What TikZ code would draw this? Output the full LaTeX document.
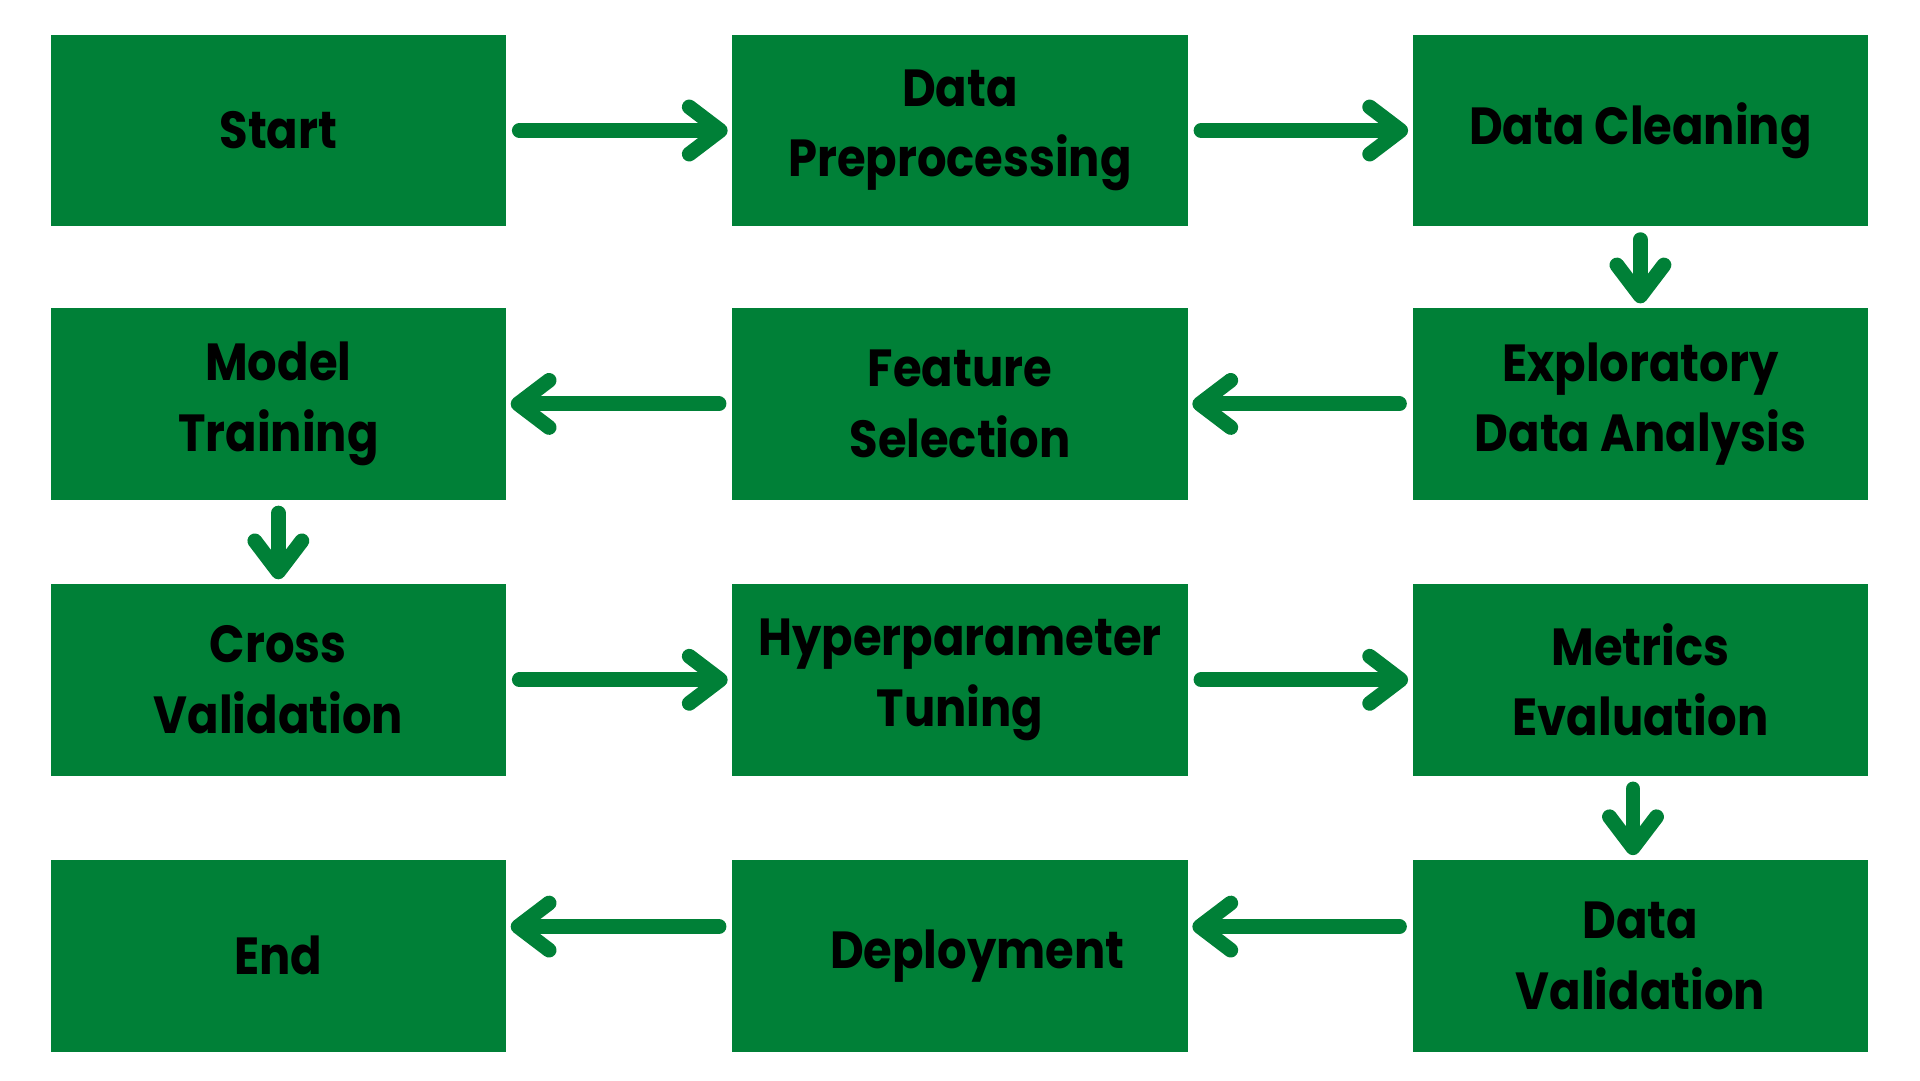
\documentclass[tikz,border=0pt]{standalone}
\usepackage{fontspec}
\setmainfont{Poppins}[FakeStretch=0.89]
\usetikzlibrary{arrows.meta}
\definecolor{boxgreen}{HTML}{008037}
\begin{document}
\begin{tikzpicture}[x=0.01cm,y=-0.01cm,
  stepbox/.style={fill=boxgreen, draw=none, minimum width=3.68cm, minimum height=1.55cm,
    inner sep=0pt, align=center, text=black, font=\bfseries\fontsize{12}{16.2}\selectfont},
  flow/.style={draw=boxgreen, line width=0.12cm, line cap=round,
    shorten <=0.1cm, shorten >=0.03cm,
    -{Straight Barb[round, length=0.25cm, width=0.38cm]}}]
\useasboundingbox (0,0) rectangle (1552,873);
\node[stepbox] (start) at (225,105.5) {Start};
\node[stepbox] (prep) at (776,105.5) {Data\\Preprocessing};
\node[stepbox] (clean) at (1326,105.5) {Data Cleaning};
\node[stepbox] (eda) at (1326,326.5) {Exploratory\\Data Analysis};
\node[stepbox] (feat) at (776,326.5) {Feature\\Selection};
\node[stepbox] (train) at (225,326.5) {Model\\Training};
\node[stepbox] (cv) at (225,549.5) {Cross\\Validation};
\node[stepbox] (hyper) at (776,549.5) {Hyperparameter\\Tuning};
\node[stepbox] (metrics) at (1326,549.5) {Metrics\\Evaluation};
\node[stepbox] (dval) at (1326,772.5) {Data\\Validation};
\node[stepbox] (deploy) at (776,772.5) {\hspace*{0.28cm}Deployment};
\node[stepbox] (end) at (225,772.5) {End};
\draw[flow] (start.east) -- (prep.west);
\draw[flow] (prep.east) -- (clean.west);
\draw[flow] (clean.south) -- (eda.north);
\draw[flow] (eda.west) -- (feat.east);
\draw[flow] (feat.west) -- (train.east);
\draw[flow] (train.south) -- (cv.north);
\draw[flow] (cv.east) -- (hyper.west);
\draw[flow] (hyper.east) -- (metrics.west);
\draw[flow] ([xshift=-0.06cm]metrics.south) -- ([xshift=-0.06cm]dval.north);
\draw[flow] ([yshift=0.235cm]dval.west) -- ([yshift=0.235cm]deploy.east);
\draw[flow] ([yshift=0.235cm]deploy.west) -- ([yshift=0.235cm]end.east);
\end{tikzpicture}
\end{document}
